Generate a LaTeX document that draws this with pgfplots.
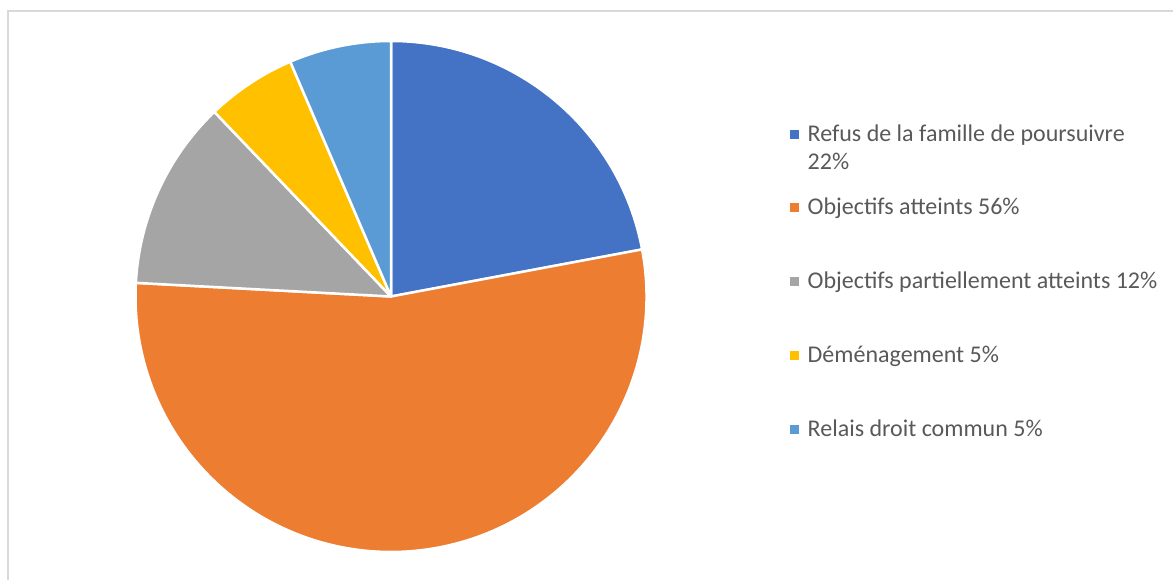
\documentclass[border=0pt]{standalone}
\usepackage{pgfplots}
\pgfplotsset{compat=1.18}
\usepackage{pgfplotstable}
\usepackage{fontspec}
\setmainfont{Carlito}
\definecolor{c0}{HTML}{4472C4}
\definecolor{c1}{HTML}{ED7D31}
\definecolor{c2}{HTML}{A5A5A5}
\definecolor{c3}{HTML}{FFC000}
\definecolor{c4}{HTML}{5B9BD5}
\definecolor{txt}{HTML}{595959}
\definecolor{frame}{HTML}{D9D9D9}
\pgfplotstableread{
value
22.05
53.8
12.0
5.7
6.45
}\piedata
\begin{document}
\begin{tikzpicture}
\xdef\cum{90}
\foreach \i in {0,...,4}{
  \pgfplotstablegetelem{\i}{value}\of\piedata
  \pgfmathsetmacro\endang{\cum-3.6*\pgfplotsretval}
  \expandafter\xdef\csname sA\i\endcsname{\cum}
  \expandafter\xdef\csname eA\i\endcsname{\endang}
  \xdef\cum{\endang}
}
\begin{axis}[width=1173pt,height=580pt,scale only axis,
  xmin=0,xmax=1173,ymin=0,ymax=580,hide axis,clip=false]
\addplot[draw=none] coordinates {(0,0)};
\draw[frame, line width=1.5pt] (axis cs:8,0) -- (axis cs:8,569) -- (axis cs:1173,569);
\pgfplotsinvokeforeach{0,...,4}{
  \fill[c#1, draw=white, line width=2.5pt, line join=round]
    (axis cs:391,283.5) -- ([shift={(\csname sA#1\endcsname:255.5pt)}]axis cs:391,283.5)
    arc[start angle=\csname sA#1\endcsname, end angle=\csname eA#1\endcsname, radius=255.5pt] -- cycle;
}
\tikzset{lg/.style={anchor=base west, text=txt, font=\fontsize{24}{28}\selectfont, inner sep=0pt}}
\fill[c0] (axis cs:789.5,440.5) rectangle (axis cs:798.5,449.5);
\node[lg] at (axis cs:807.5,438) {Refus de la famille de poursuivre};
\node[lg] at (axis cs:807.5,410) {22\%};
\fill[c1] (axis cs:789.5,367.5) rectangle (axis cs:798.5,376.5);
\node[lg] at (axis cs:807.5,365) {Objectifs atteints 56\%};
\fill[c2] (axis cs:789.5,293.5) rectangle (axis cs:798.5,302.5);
\node[lg] at (axis cs:807.5,291) {Objectifs partiellement atteints 12\%};
\fill[c3] (axis cs:789.5,219.5) rectangle (axis cs:798.5,228.5);
\node[lg] at (axis cs:807.5,217) {Déménagement 5\%};
\fill[c4] (axis cs:789.5,145.5) rectangle (axis cs:798.5,154.5);
\node[lg] at (axis cs:807.5,143) {Relais droit commun 5\%};
\end{axis}
\pgfresetboundingbox
\path[use as bounding box] (current axis.south west) rectangle (current axis.north east);
\end{tikzpicture}
\end{document}
